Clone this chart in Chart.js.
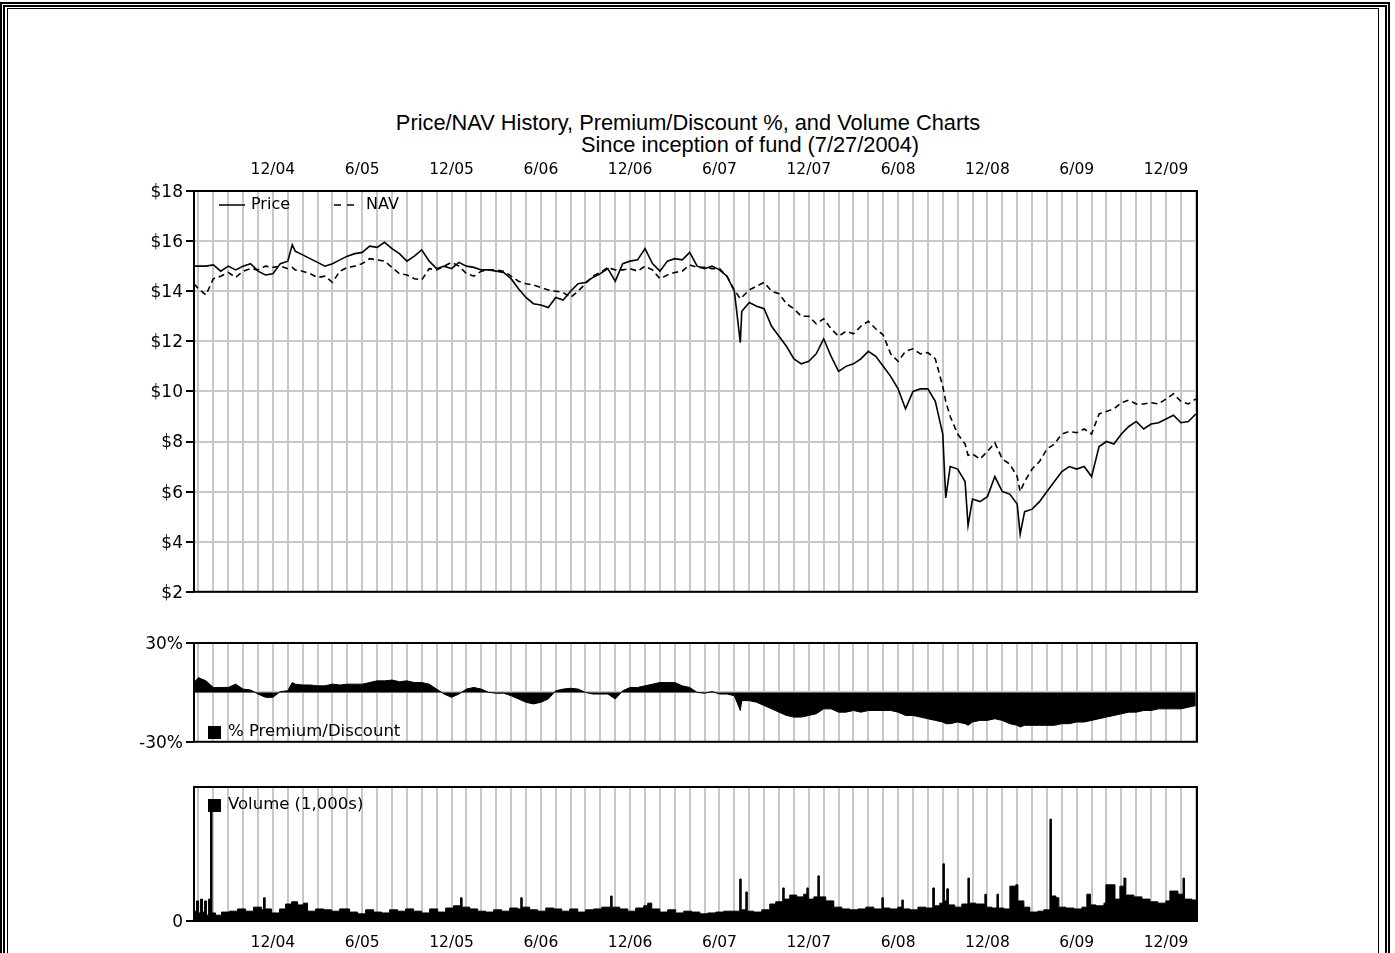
<!DOCTYPE html>
<html>
<head>
<meta charset="utf-8">
<script src="https://cdn.jsdelivr.net/npm/chart.js@4"></script>
<style>
  body { margin: 0; background: #fff; width: 1395px; height: 953px; overflow: hidden; position: relative; }
  .outer { position: absolute; left: 0; top: 2px; width: 1380px; height: 1000px; border: 5px double #000; }
  .inner { position: absolute; left: 7px; top: 8px; width: 1370px; height: 1000px; border: 1px solid #000; }
  .title { position: absolute; font-family: "Liberation Sans", Arial, sans-serif; font-size: 21.8px; line-height: 24px;
           white-space: nowrap; transform: translateX(-50%); color: #000; }
  canvas { position: absolute; left: 0; }
</style>
</head>
<body>
<div class="outer"></div>
<div class="inner"></div>
<div class="title" style="left:688px; top:111px">Price/NAV History, Premium/Discount %, and Volume Charts</div>
<div class="title" style="left:750px; top:133px">Since inception of fund (7/27/2004)</div>
<canvas id="priceChart" width="1395" height="455" style="top:150px"></canvas>
<canvas id="premChart" width="1395" height="130" style="top:625px"></canvas>
<canvas id="volChart" width="1395" height="183" style="top:770px"></canvas>
<script>
// time axis in months, 12 = 12/04, 72 = 12/09
const xMin = 6.7, xMax = 74.08;
const tickMonths = [12, 18, 24, 30, 36, 42, 48, 54, 60, 66, 72];
const tickLabels = ['12/04', '6/05', '12/05', '6/06', '12/06', '6/07', '12/07', '6/08', '12/08', '6/09', '12/09'];

const months = [
  6.7, 7, 7.5, 8, 8.5, 9, 9.5, 10, 10.5, 11, 11.5,
  12, 12.5, 13, 13.3, 13.5, 14, 14.5, 15, 15.5, 16, 16.5, 17, 17.5,
  18, 18.5, 19, 19.5, 20, 20.5, 21, 21.5, 22, 22.5, 23, 23.5,
  24, 24.5, 25, 25.5, 26, 26.5, 27, 27.5, 28, 28.5, 29, 29.5,
  30, 30.5, 31, 31.5, 32, 32.5, 33, 33.5, 34, 34.5, 35, 35.5,
  36, 36.5, 37, 37.5, 38, 38.5, 39, 39.5, 40, 40.5, 41, 41.5,
  42, 42.5, 43, 43.4, 43.5, 44, 44.5, 45, 45.5, 46, 46.5, 47, 47.5,
  48, 48.5, 49, 49.5, 50, 50.5, 51, 51.5, 52, 52.5, 53, 53.5,
  54, 54.5, 55, 55.5, 56, 56.5, 57, 57.2, 57.5, 58, 58.5, 58.7, 59, 59.5,
  60, 60.5, 61, 61.5, 62, 62.2, 62.5, 63, 63.5, 64, 64.5, 65, 65.5,
  66, 66.5, 67, 67.5, 68, 68.5, 69, 69.5, 70, 70.5, 71, 71.5,
  72, 72.5, 73, 73.5, 74
];

const price = [
  15.0, 15.0, 15.0, 15.05, 14.8, 15.0, 14.85, 15.0, 15.1, 14.8, 14.65,
  14.7, 15.1, 15.2, 15.85, 15.6, 15.45, 15.3, 15.15, 15.0, 15.1, 15.25, 15.4, 15.5,
  15.55, 15.8, 15.75, 15.95, 15.7, 15.5, 15.2, 15.4, 15.65, 15.2, 14.9, 15.0,
  14.9, 15.15, 15.0, 14.95, 14.85, 14.85, 14.8, 14.75, 14.5, 14.1, 13.75, 13.5,
  13.45, 13.35, 13.75, 13.65, 14.0, 14.3, 14.35, 14.55, 14.7, 14.9, 14.4, 15.1,
  15.2, 15.25, 15.7, 15.1, 14.8, 15.2, 15.3, 15.25, 15.55, 15.0, 14.9, 15.0,
  14.85, 14.6, 14.0, 11.95, 13.2, 13.55, 13.4, 13.3, 12.6, 12.2, 11.8, 11.3, 11.1,
  11.2, 11.5, 12.1, 11.4, 10.8, 11.0, 11.1, 11.3, 11.6, 11.4, 11.0, 10.6,
  10.1, 9.3, 10.0, 10.1, 10.1, 9.6, 8.3, 5.75, 7.0, 6.9, 6.4, 4.65, 5.7, 5.6,
  5.8, 6.6, 6.0, 5.9, 5.5, 4.3, 5.2, 5.3, 5.6, 6.0, 6.4, 6.8, 7.0,
  6.9, 7.0, 6.6, 7.8, 8.0, 7.9, 8.3, 8.6, 8.8, 8.5, 8.7, 8.75,
  8.9, 9.05, 8.75, 8.8, 9.1
];

const nav = [
  14.3, 14.1, 13.85, 14.5, 14.6, 14.75, 14.55, 14.8, 14.9, 14.85, 15.0,
  14.95, 15.0, 14.9, 14.95, 14.85, 14.8, 14.7, 14.55, 14.6, 14.35, 14.8, 14.95, 15.0,
  15.1, 15.3, 15.25, 15.2, 14.95, 14.7, 14.65, 14.5, 14.45, 14.9, 14.85, 15.0,
  15.15, 15.0, 14.7, 14.6, 14.8, 14.85, 14.85, 14.8, 14.6, 14.4, 14.3, 14.25,
  14.15, 14.05, 14.0, 13.95, 13.75, 14.0, 14.3, 14.6, 14.75, 14.95, 14.85, 14.85,
  14.9, 14.8, 15.0, 14.85, 14.5, 14.65, 14.75, 14.8, 15.05, 14.95, 14.95, 14.9,
  14.9, 14.6, 14.05, 13.7, 13.75, 14.05, 14.2, 14.35, 14.0, 13.9, 13.5, 13.3, 13.0,
  13.0, 12.7, 12.9, 12.5, 12.2, 12.4, 12.3, 12.6, 12.8, 12.5, 12.25, 11.5,
  11.2, 11.6, 11.7, 11.5, 11.55, 11.3, 10.2, 9.6, 9.0, 8.3, 7.9, 7.45, 7.5, 7.3,
  7.6, 7.95, 7.3, 7.1, 6.6, 6.0, 6.4, 6.9, 7.2, 7.7, 7.9, 8.3, 8.4,
  8.35, 8.5, 8.3, 9.1, 9.2, 9.3, 9.55, 9.65, 9.5, 9.5, 9.55, 9.5,
  9.7, 9.9, 9.6, 9.5, 9.7
];

// % premium (+) / discount (-)
const premium = [
  6, 9, 7, 3, 3, 3, 5, 2, 1.5, -1, -3,
  -3, 0.5, 1, 6, 5, 4.5, 4.5, 4, 4, 5, 4.5, 5, 5,
  5, 6, 7, 7, 7.5, 6.5, 7, 6, 6, 5, 2, -1,
  -3, -1, 2, 3, 2, 0, -0.5, -0.5, -2, -4, -6, -7,
  -6, -4, 1, 2, 2.5, 2, 0, -1, -1, -1, -4, 1,
  3, 3, 4, 5, 6, 6, 6, 4, 3, 0, -0.5, 0.5,
  -1, -1, -2, -11, -5, -5, -6, -8, -10, -12, -14, -15, -15,
  -14, -13, -10, -10, -12, -12, -11, -12, -11, -11, -11, -11,
  -12, -14, -14, -15, -16, -17, -18, -19, -19, -18, -19, -20, -18, -17,
  -17, -16, -17, -19, -20, -21, -20, -20, -20, -20, -20, -19, -19,
  -18, -18, -17, -16, -15, -14, -13, -12, -12, -11, -11, -10,
  -10, -10, -10, -9, -8
];

// volume in thousands of shares
const volMonths = [
  6.67, 6.87, 7.01, 7.14, 7.27, 7.41, 7.54, 7.68, 7.81, 7.91, 8.15, 8.55, 9.09, 9.63, 10.16, 10.70, 11.24, 11.37, 11.48, 11.91,
  12.45, 12.85, 13.26, 13.66, 14.06, 14.33, 14.87, 15.41, 15.94, 16.48, 17.15, 17.69, 18.23, 18.77, 19.30, 19.84, 20.38, 20.92, 21.45, 21.99,
  22.53, 23.07, 23.61, 24.14, 24.61, 24.71, 25.22, 25.76, 26.29, 26.83, 27.37, 27.91, 28.44, 28.65, 28.75, 29.25, 29.79, 30.33, 30.86, 31.40,
  31.94, 32.48, 33.01, 33.55, 34.09, 34.69, 34.79, 35.30, 35.84, 36.37, 36.91, 37.18, 37.45, 37.99, 38.52, 39.06, 39.60, 40.14, 40.68, 41.21,
  41.75, 42.29, 42.83, 43.36, 43.46, 43.77, 43.87, 44.30, 44.84, 45.38, 45.78, 46.25, 46.35, 46.72, 47.19, 47.66, 47.87, 47.97, 48.34, 48.61,
  48.71, 49.14, 49.68, 50.22, 50.76, 51.29, 51.83, 52.37, 52.91, 53.01, 53.44, 53.98, 54.25, 54.35, 54.79, 55.33, 55.86, 56.33, 56.44, 56.80,
  57.01, 57.11, 57.27, 57.38, 57.81, 58.28, 58.69, 58.79, 59.22, 59.83, 59.93, 60.30, 60.64, 60.74, 61.11, 61.51, 61.91, 62.05, 62.45, 62.85,
  63.39, 63.79, 64.20, 64.30, 64.60, 64.80, 65.27, 65.81, 66.35, 66.68, 66.92, 67.29, 67.83, 67.96, 68.57, 68.90, 69.17, 69.30, 69.84, 70.38,
  70.92, 71.45, 71.99, 72.26, 72.80, 73.14, 73.24, 73.74, 74.08
];
const volume = [
  22, 45, 18, 49, 20, 45, 13, 49, 260, 18, 13, 20, 22, 27, 22, 31, 25, 52, 27, 18,
  27, 38, 43, 36, 40, 22, 27, 25, 22, 27, 20, 16, 25, 20, 18, 25, 22, 27, 22, 18,
  27, 20, 29, 34, 52, 31, 27, 22, 20, 25, 22, 29, 27, 52, 31, 25, 22, 29, 27, 22,
  27, 20, 25, 27, 31, 56, 31, 27, 22, 29, 34, 40, 27, 20, 25, 18, 22, 20, 16, 18,
  20, 22, 22, 94, 25, 65, 22, 20, 25, 38, 43, 74, 49, 58, 54, 60, 74, 49, 54, 101,
  54, 45, 31, 27, 25, 27, 31, 27, 52, 29, 27, 31, 47, 27, 25, 31, 29, 74, 34, 40,
  128, 45, 72, 36, 31, 38, 96, 40, 38, 60, 31, 29, 60, 29, 27, 78, 81, 45, 31, 20,
  22, 25, 228, 56, 52, 31, 29, 27, 31, 60, 36, 34, 40, 81, 49, 78, 96, 58, 54, 49,
  43, 40, 45, 67, 60, 96, 49, 47, 49
];

const gridGray = '#c8c8c8';
const labelFont = { family: 'DejaVu Sans', size: 15.5 };
const valueFont = { family: 'DejaVu Sans', size: 17 };

// frame round the plot area and the small legend drawn inside it
const panelPlugin = {
  id: 'panel',
  afterDatasetsDraw(chart, args, opts) {
    const { ctx, chartArea: a } = chart;
    ctx.save();
    ctx.strokeStyle = '#000';
    ctx.lineWidth = 2;
    ctx.strokeRect(a.left, a.top, a.right - a.left, a.bottom - a.top);
    ctx.fillStyle = '#000';
    ctx.textBaseline = 'middle';
    (opts.items || []).forEach(function (it) {
      const x = a.left + it.dx, y = a.top + it.dy;
      if (it.mark === 'box') {
        ctx.font = '16.5px "DejaVu Sans"';
        ctx.fillRect(x, y - 6, 13, 13);
        ctx.fillText(it.text, x + 20, y);
      } else {
        ctx.font = '16px "DejaVu Sans"';
        ctx.beginPath();
        ctx.lineWidth = 1.5;
        ctx.setLineDash(it.mark === 'dash' ? [7, 6] : []);
        ctx.moveTo(x, y);
        ctx.lineTo(x + 26, y);
        ctx.stroke();
        ctx.setLineDash([]);
        ctx.fillText(it.text, x + 32, y);
      }
    });
    ctx.restore();
  }
};

function timeAxis(position, showLabels, height, pad) {
  return {
    type: 'linear', position: position, min: xMin, max: xMax,
    border: { display: false },
    grid: { color: gridGray, lineWidth: 2, drawTicks: false },
    ticks: {
      display: showLabels, stepSize: 1, maxTicksLimit: 1000, autoSkip: false, includeBounds: false,
      maxRotation: 0, minRotation: 0, padding: pad, color: '#000', font: labelFont,
      callback: function (v) {
        const r = Math.round(v);
        const i = tickMonths.indexOf(r);
        return (i >= 0 && Math.abs(v - r) < 1e-6) ? tickLabels[i] : '';
      }
    },
    afterFit: function (s) { s.height = height; }
  };
}

function valueAxis(min, max, step, fmt, gridColor, tickColor) {
  return {
    min: min, max: max,
    border: { display: false },
    grid: { color: gridColor, tickColor: tickColor, lineWidth: 2, tickLength: 8 },
    ticks: { stepSize: step, padding: 3, labelOffset: 1.5, color: '#000', font: valueFont, callback: fmt },
    afterFit: function (s) { s.width = 194; }
  };
}

const baseOptions = {
  responsive: false,
  animation: false,
  events: [],
  plugins: { legend: { display: false }, tooltip: { enabled: false } }
};

function pts(xs, ys) {
  return xs.map((x, i) => ({ x: x, y: ys[i] }));
}

// Price / NAV
new Chart(document.getElementById('priceChart'), {
  type: 'line',
  data: {
    datasets: [
      { label: 'Price', data: pts(months, price), borderColor: '#000', borderWidth: 1.6, pointRadius: 0, tension: 0 },
      { label: 'NAV', data: pts(months, nav), borderColor: '#000', borderWidth: 1.6, borderDash: [6, 4], pointRadius: 0, tension: 0 }
    ]
  },
  options: Object.assign({}, baseOptions, {
    layout: { padding: { top: 0, right: 198, bottom: 10, left: 0 } },
    scales: {
      x: timeAxis('top', true, 41, 12),
      y: valueAxis(2, 18, 2, v => '$' + v, gridGray, '#000')
    },
    plugins: Object.assign({}, baseOptions.plugins, {
      panel: { items: [
        { mark: 'line', text: 'Price', dx: 25, dy: 14 },
        { mark: 'dash', text: 'NAV', dx: 140, dy: 14 }
      ] }
    })
  }),
  plugins: [panelPlugin]
});

// Premium / Discount
new Chart(document.getElementById('premChart'), {
  type: 'line',
  data: {
    datasets: [
      { label: '% Premium/Discount', data: pts(months, premium), borderColor: '#000', backgroundColor: '#000',
        borderWidth: 1, fill: 'origin', pointRadius: 0, tension: 0 }
    ]
  },
  options: Object.assign({}, baseOptions, {
    layout: { padding: { top: 18, right: 198, bottom: 12, left: 0 } },
    scales: {
      x: timeAxis('bottom', false, 0, 0),
      y: valueAxis(-30, 30, 30, v => (v === 0 ? '' : v + '%'),
        c => (c.tick && c.tick.value === 0 ? gridGray : 'transparent'),
        c => (c.tick && c.tick.value === 0 ? 'transparent' : '#000'))
    },
    plugins: Object.assign({}, baseOptions.plugins, {
      panel: { items: [{ mark: 'box', text: '% Premium/Discount', dx: 14, dy: 89 }] }
    })
  }),
  plugins: [panelPlugin]
});

// Volume
new Chart(document.getElementById('volChart'), {
  type: 'line',
  data: {
    datasets: [
      { label: 'Volume (1,000s)', data: pts(volMonths, volume), borderColor: '#000', backgroundColor: '#000',
        borderWidth: 1, fill: 'origin', stepped: true, pointRadius: 0 }
    ]
  },
  options: Object.assign({}, baseOptions, {
    layout: { padding: { top: 17, right: 198, bottom: 0, left: 0 } },
    scales: {
      x: timeAxis('bottom', true, 32, 13),
      y: valueAxis(0, 300, 300, v => (v === 0 ? '0' : ''), 'transparent',
        c => (c.tick && c.tick.value === 0 ? '#000' : 'transparent'))
    },
    plugins: Object.assign({}, baseOptions.plugins, {
      panel: { items: [{ mark: 'box', text: 'Volume (1,000s)', dx: 14, dy: 18 }] }
    })
  }),
  plugins: [panelPlugin]
});
</script>
</body>
</html>
